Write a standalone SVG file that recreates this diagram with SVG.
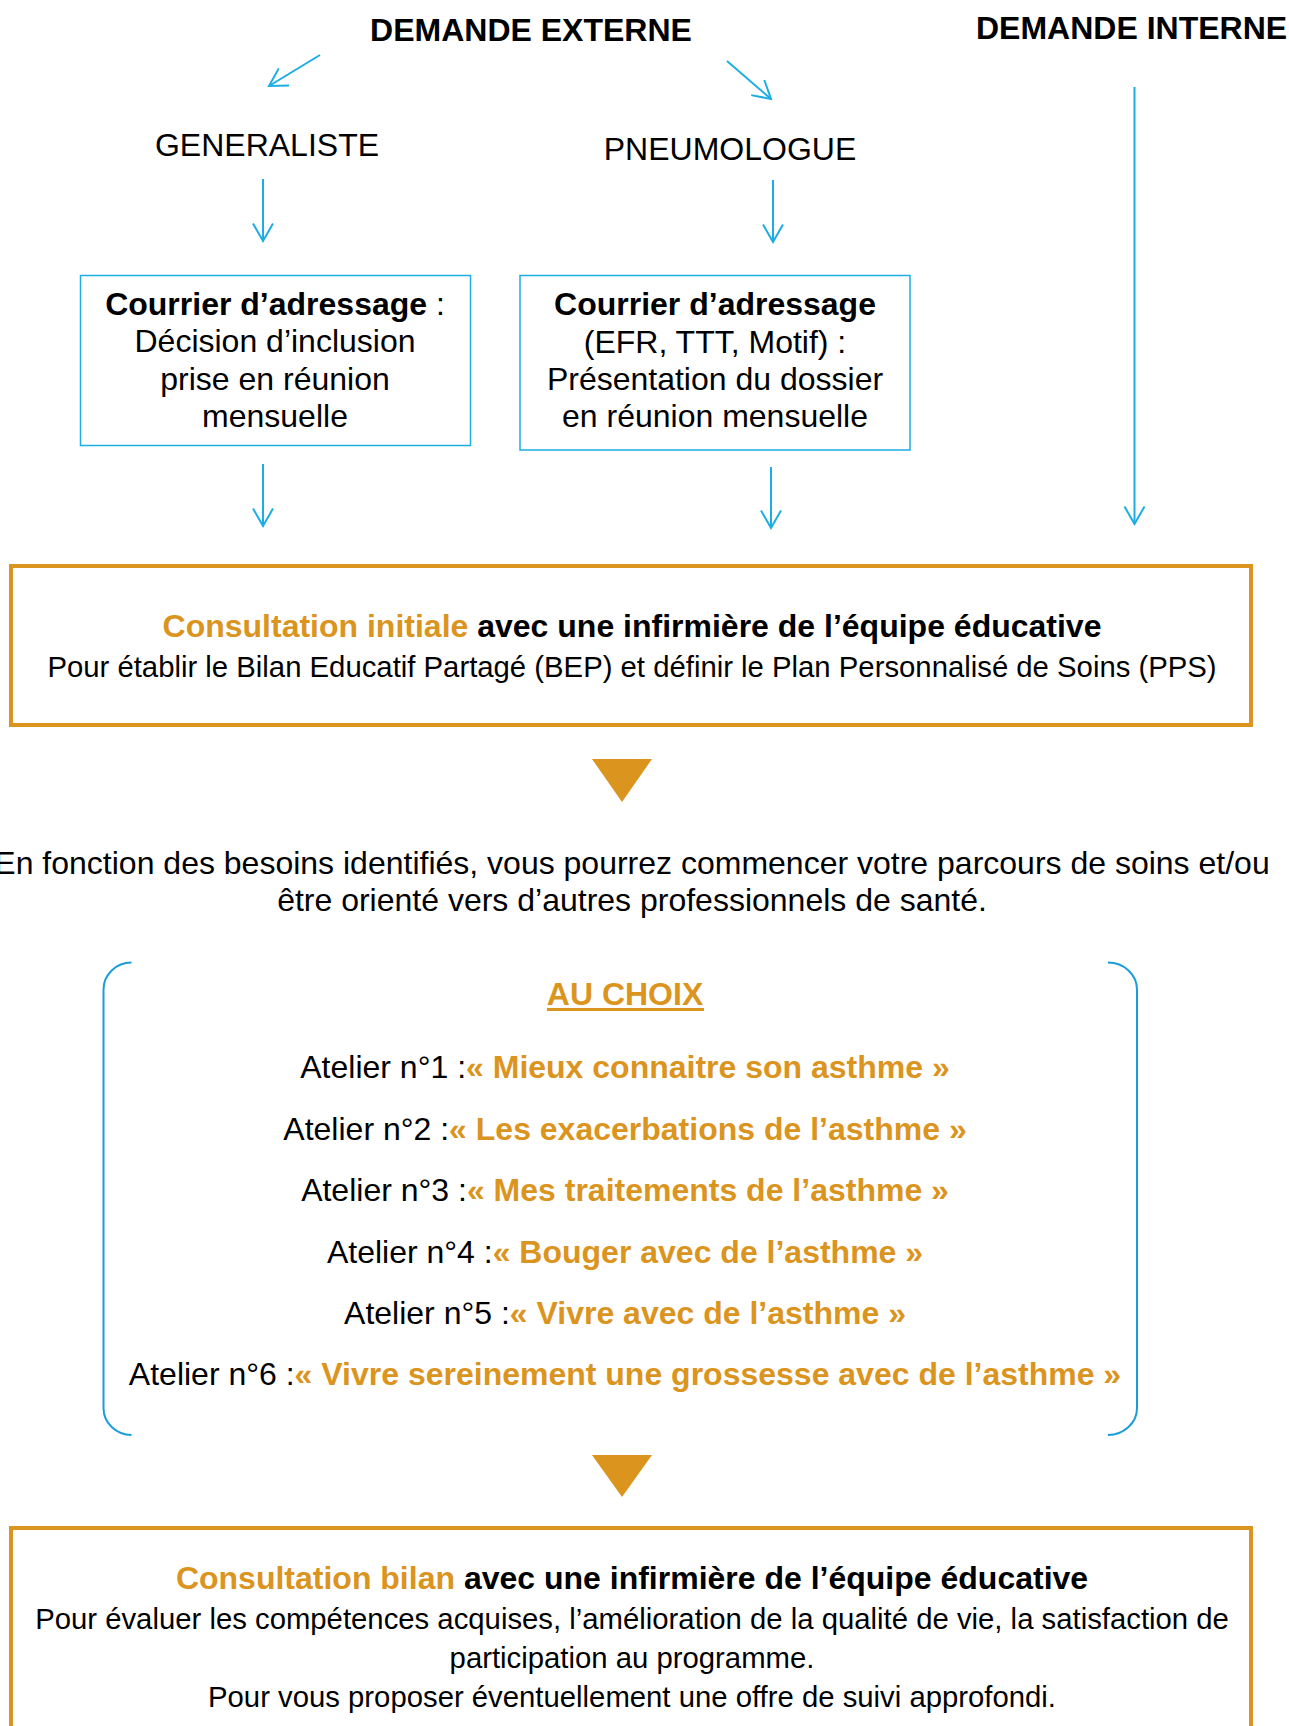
<svg xmlns="http://www.w3.org/2000/svg" width="1289" height="1726" viewBox="0 0 1289 1726">
<style>
text{font-family:"Liberation Sans",Arial,sans-serif;fill:#000;}
.t32{font-size:32px;}
.t29{font-size:29.3px;}
.b{font-weight:bold;}
.or{fill:#DB941E;}
.mid{text-anchor:middle;}
.bluebox{fill:none;stroke:#1CADE4;stroke-width:1.5;}
.orbox{fill:none;stroke:#DB941E;stroke-width:4;}
.conn{stroke:#1CADE4;stroke-width:2;fill:none;marker-end:url(#vh);}
.tri{fill:#DB941E;}
.brk{fill:none;stroke:#1B9DDB;stroke-width:2;}
</style>
<defs>
<marker id="vh" markerUnits="userSpaceOnUse" markerWidth="24" markerHeight="24" viewBox="-20 -12 22 24" refX="0" refY="0" orient="auto">
<path d="M-17.5,-10 L0,0 L-17.5,10" fill="none" stroke="#1CADE4" stroke-width="2"/>
</marker>
</defs>
<rect width="1289" height="1726" fill="#fff"/>

<g id="demande-externe"><text class="t32 b mid" x="531" y="41">DEMANDE EXTERNE</text></g>
<g id="demande-interne"><text class="t32 b" x="976" y="39">DEMANDE INTERNE</text></g>
<g id="generaliste"><text class="t32 mid" x="267" y="156">GENERALISTE</text></g>
<g id="pneumologue"><text class="t32 mid" x="730" y="160">PNEUMOLOGUE</text></g>

<g id="courrier-generaliste">
<rect class="bluebox" x="80.5" y="275.5" width="390" height="170"/>
<text class="t32 mid" x="275" y="315"><tspan class="b">Courrier d’adressage</tspan> :</text>
<text class="t32 mid" x="275" y="352">Décision d’inclusion</text>
<text class="t32 mid" x="275" y="389.5">prise en réunion</text>
<text class="t32 mid" x="275" y="427">mensuelle</text>
</g>

<g id="courrier-pneumologue">
<rect class="bluebox" x="520" y="275.5" width="390" height="174.5"/>
<text class="t32 b mid" x="715" y="315">Courrier d’adressage</text>
<text class="t32 mid" x="715" y="352.5">(EFR, TTT, Motif) :</text>
<text class="t32 mid" x="715" y="389.5">Présentation du dossier</text>
<text class="t32 mid" x="715" y="427">en réunion mensuelle</text>
</g>

<g id="consultation-initiale">
<rect class="orbox" x="11" y="566" width="1240" height="159"/>
<text class="t32 b mid" x="632" y="637"><tspan class="or">Consultation initiale</tspan> avec une infirmière de l’équipe éducative</text>
<text class="t29 mid" x="632" y="677">Pour établir le Bilan Educatif Partagé (BEP) et définir le Plan Personnalisé de Soins (PPS)</text>
</g>

<g id="orientation">
<text class="t32 mid" x="632" y="873.5">En fonction des besoins identifiés, vous pourrez commencer votre parcours de soins et/ou</text>
<text class="t32 mid" x="632" y="910.5">être orienté vers d’autres professionnels de santé.</text>
</g>

<g id="au-choix">
<path class="brk" d="M131.5,962.5 A28,27 0 0 0 103.5,989.5 V1408 A28,27 0 0 0 131.5,1435"/>
<path class="brk" d="M1108,962.5 A29,27 0 0 1 1137,989.5 V1408 A29,27 0 0 1 1108,1435"/>
<text class="t32 b mid or" x="625" y="1005">AU CHOIX</text>
<rect x="547" y="1008" width="157" height="3" fill="#DB941E"/>
<text class="t32 mid" x="625" y="1078">Atelier n°1 :<tspan class="b or">« Mieux connaitre son asthme »</tspan></text>
<text class="t32 mid" x="625" y="1140">Atelier n°2 :<tspan class="b or">« Les exacerbations de l’asthme »</tspan></text>
<text class="t32 mid" x="625" y="1201">Atelier n°3 :<tspan class="b or">« Mes traitements de l’asthme »</tspan></text>
<text class="t32 mid" x="625" y="1263">Atelier n°4 :<tspan class="b or">« Bouger avec de l’asthme »</tspan></text>
<text class="t32 mid" x="625" y="1324">Atelier n°5 :<tspan class="b or">« Vivre avec de l’asthme »</tspan></text>
<text class="t32 mid" x="625" y="1384.5">Atelier n°6 :<tspan class="b or">« Vivre sereinement une grossesse avec de l’asthme »</tspan></text>
</g>

<g id="consultation-bilan">
<rect class="orbox" x="11" y="1528" width="1240" height="260"/>
<text class="t32 b mid" x="632" y="1589"><tspan class="or">Consultation bilan</tspan> avec une infirmière de l’équipe éducative</text>
<text class="t29 mid" x="632" y="1629">Pour évaluer les compétences acquises, l’amélioration de la qualité de vie, la satisfaction de</text>
<text class="t29 mid" x="632" y="1668">participation au programme.</text>
<text class="t29 mid" x="632" y="1707">Pour vous proposer éventuellement une offre de suivi approfondi.</text>
</g>

<g id="connectors">
<line class="conn" x1="320" y1="55" x2="269" y2="86"/>
<line class="conn" x1="727" y1="61" x2="771" y2="99"/>
<line class="conn" x1="263" y1="179" x2="263" y2="241"/>
<line class="conn" x1="773" y1="180" x2="773" y2="242"/>
<line class="conn" x1="263" y1="464" x2="263" y2="526"/>
<line class="conn" x1="771" y1="467" x2="771" y2="528"/>
<line class="conn" x1="1134.5" y1="87" x2="1134.5" y2="524"/>
<polygon class="tri" points="592,759 652,759 622,802"/>
<polygon class="tri" points="592,1455 652,1455 622,1497"/>
</g>
</svg>
